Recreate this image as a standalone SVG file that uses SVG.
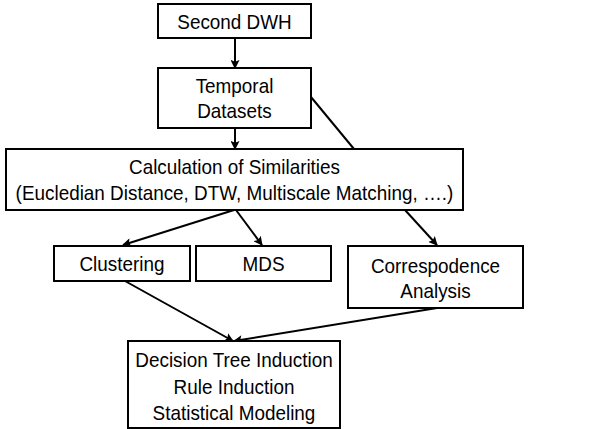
<svg xmlns="http://www.w3.org/2000/svg" width="605" height="429" viewBox="0 0 605 429">
  <defs>
    <marker id="arrow" viewBox="0 0 10 10" refX="9" refY="5" markerWidth="10" markerHeight="9" orient="auto" markerUnits="userSpaceOnUse">
      <path d="M0,0 L10,5 L0,10 L2,5 Z" fill="#000"/>
    </marker>
    <style>
      .box { fill: #fff; stroke: #000; stroke-width: 2; }
      .lbl { font-family: "Liberation Sans", Arial, sans-serif; font-size: 21px; fill: #000; text-anchor: middle; }
      .edge { fill: none; stroke: #000; stroke-width: 2; }
      .arr { marker-end: url(#arrow); }
    </style>
  </defs>
  <rect width="605" height="429" fill="#fff"/>

  <g id="connectors">
    <line class="edge arr" x1="235" y1="38" x2="235" y2="68"/>
    <line class="edge arr" x1="235" y1="128" x2="235" y2="149"/>
    <line class="edge" x1="311" y1="97" x2="354" y2="149"/>
    <line class="edge arr" x1="405" y1="210" x2="437" y2="245"/>
    <line class="edge arr" x1="234" y1="210" x2="123" y2="245"/>
    <line class="edge arr" x1="236" y1="210" x2="262" y2="245"/>
    <line class="edge arr" x1="125" y1="281" x2="233" y2="341"/>
    <line class="edge arr" x1="437" y1="308" x2="234" y2="341"/>
  </g>

  <!-- labels use a slightly condensed face: scale(0.9,1) about each centre -->
  <g id="second-dwh">
    <rect class="box" x="158" y="4" width="153" height="34"/>
    <text class="lbl" transform="matrix(0.9 0 0 1 234.5 29)">Second DWH</text>
  </g>

  <g id="temporal-datasets">
    <rect class="box" x="158" y="68" width="153" height="60"/>
    <text class="lbl" transform="matrix(0.9 0 0 1 234.5 93)">Temporal</text>
    <text class="lbl" transform="matrix(0.9 0 0 1 234.5 118)">Datasets</text>
  </g>

  <g id="similarities">
    <rect class="box" x="6" y="149" width="457" height="61"/>
    <text class="lbl" transform="matrix(0.9 0 0 1 234.5 174)">Calculation of Similarities</text>
    <text class="lbl" transform="matrix(0.9 0 0 1 234.5 200)">(Eucledian Distance, DTW, Multiscale Matching, ….)</text>
  </g>

  <g id="clustering">
    <rect class="box" x="54" y="246" width="136" height="35"/>
    <text class="lbl" transform="matrix(0.9 0 0 1 122 271)">Clustering</text>
  </g>

  <g id="mds">
    <rect class="box" x="196" y="246" width="135" height="35"/>
    <text class="lbl" transform="matrix(0.9 0 0 1 263.5 271)">MDS</text>
  </g>

  <g id="correspondence">
    <rect class="box" x="348" y="246" width="175" height="62"/>
    <text class="lbl" transform="matrix(0.9 0 0 1 435.5 273)">Correspodence</text>
    <text class="lbl" transform="matrix(0.9 0 0 1 435.5 298)">Analysis</text>
  </g>

  <g id="modeling">
    <rect class="box" x="128" y="341" width="212" height="87"/>
    <text class="lbl" transform="matrix(0.9 0 0 1 234 367)">Decision Tree Induction</text>
    <text class="lbl" transform="matrix(0.9 0 0 1 234 394)">Rule Induction</text>
    <text class="lbl" transform="matrix(0.9 0 0 1 234 420)">Statistical Modeling</text>
  </g>
</svg>
